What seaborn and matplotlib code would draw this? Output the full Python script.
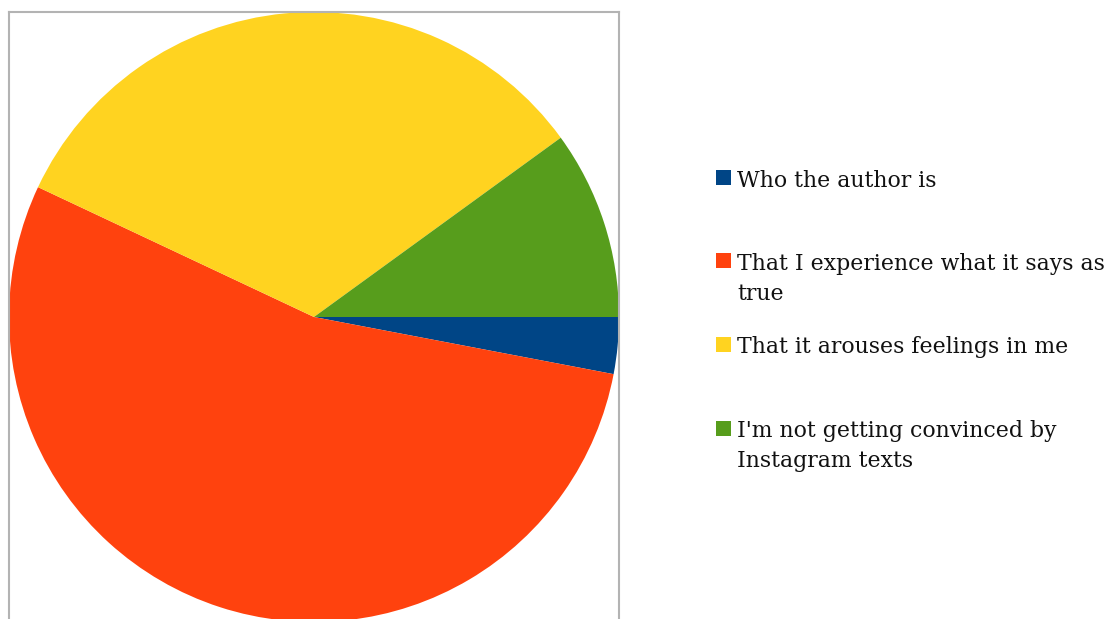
import matplotlib
matplotlib.use("Agg")
import matplotlib.pyplot as plt
from matplotlib.patches import Rectangle
import seaborn as sns

# Survey answers: what makes an Instagram text convincing (percent of respondents)
labels = [
    ["Who the author is"],
    ["That I experience what it says as", "true"],
    ["That it arouses feelings in me"],
    ["I'm not getting convinced by", "Instagram texts"],
]
shares = [3, 54, 33, 10]
colors = ["#004586", "#ff420e", "#ffd320", "#579d1c"]

sns.set_theme(style="white")
plt.rcParams["font.family"] = ["DejaVu Serif"]

W, H = 1108, 619
fig = plt.figure(figsize=(W / 100, H / 100), dpi=100)

# Plot area box in pixels (extends past the bottom edge of the canvas)
left_px, right_px, top_px, bottom_px = 9, 619, 12, 630
ax = fig.add_axes([left_px / W, 1 - bottom_px / H,
                   (right_px - left_px) / W, (bottom_px - top_px) / H])

palette = sns.color_palette(colors)
ax.pie(shares, colors=palette, startangle=0, counterclock=False,
       radius=1.0, center=(0, 0), wedgeprops=dict(linewidth=0))

r_px = (right_px - left_px) / 2
cy_px = top_px + r_px
ax.set_xlim(-1, 1)
ax.set_ylim(-(bottom_px - cy_px) / r_px, (cy_px - top_px) / r_px)
ax.set_aspect("auto")
ax.set_frame_on(True)
for s in ax.spines.values():
    s.set_visible(True)
    s.set_color("#b3b3b3")
    s.set_linewidth(1.5)
ax.set_xticks([])
ax.set_yticks([])

# Legend drawn as square swatches with wrapped labels
square_top = [170, 253, 337, 421]
baseline = [187, 270, 353, 437]
line_gap = 30
sq = 15
for lines, col, st, bl in zip(labels, palette, square_top, baseline):
    fig.add_artist(Rectangle((716 / W, 1 - (st + sq) / H), sq / W, sq / H,
                             transform=fig.transFigure, facecolor=col,
                             edgecolor="none"))
    for i, line in enumerate(lines):
        fig.text(737 / W, 1 - (bl + i * line_gap) / H, line, fontsize=15.8,
                 color="#111111", va="baseline", ha="left")

fig.savefig("out.png", dpi=100)
